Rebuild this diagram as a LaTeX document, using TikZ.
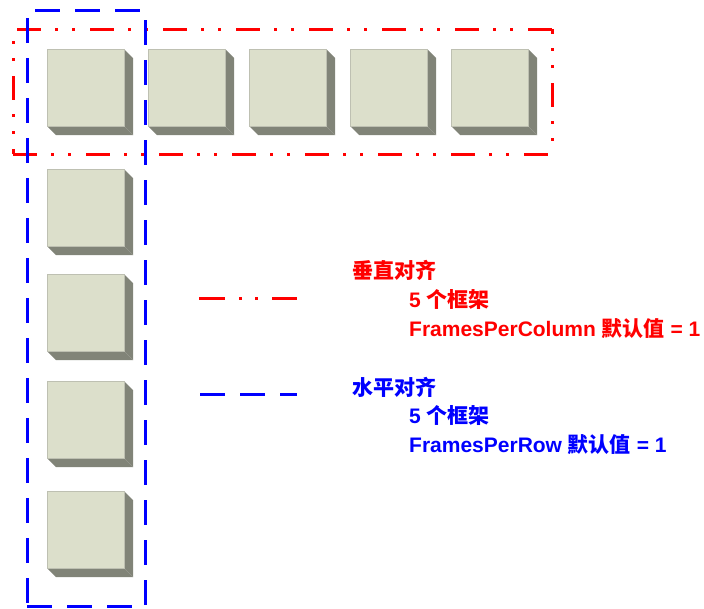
\documentclass[tikz,border=0pt]{standalone}
\usepackage{fontspec}
\setmainfont{Liberation Sans}
\newfontfamily\cjk{Noto Sans CJK SC}
\begin{document}
\begin{tikzpicture}[x=1pt,y=-1pt,
  frontface/.style={draw=edgecol, line width=0.8pt, fill=facecol, minimum size=77pt, inner sep=0pt, outer sep=0pt},
  sideface/.style={fill=sidecol},
  redline/.style={draw=red, line width=3pt, dash pattern=on 24pt off 14pt on 3pt off 14pt on 3pt off 15pt},
  blueline/.style={draw=blue, line width=3pt, dash pattern=on 25pt off 15pt},
  lbl/.style={anchor=base west, inner sep=0pt, font=\fontsize{21}{25}\selectfont\bfseries}]
\definecolor{facecol}{RGB}{220,223,203}
\definecolor{sidecol}{RGB}{129,132,120}
\definecolor{edgecol}{RGB}{190,192,178}
\useasboundingbox (0,0) rectangle (704,608);
% boxes
\foreach \n/\cx/\cy in {r1/85.5/87.5, r2/186.5/87.5, r3/287.5/87.5, r4/388.5/87.5, r5/489.5/87.5,
                        c2/85.5/207.5, c3/85.5/312.5, c4/85.5/419.5, c5/85.5/529.5}{
  \node[frontface] (\n) at (\cx,\cy) {};
  \fill[sideface] (\n.north east) -- ++(9,9) -- ([shift={(9,9)}]\n.south east) -- (\n.south east) -- cycle;
  \fill[sideface] (\n.south west) -- (\n.south east) -- ([shift={(9,9)}]\n.south east) -- ([shift={(9,9)}]\n.south west) -- cycle;
  \node[frontface] at (\cx,\cy) {};
}
% red group frame (row)
\coordinate (rtl) at (13,29);
\coordinate (rtr) at (552,29);
\coordinate (rbl) at (13,154);
\coordinate (rbr) at (552,154);
\draw[redline, dash phase=69pt] (rtl) -- (rtr);
\draw[redline, dash phase=26pt] (rtl) -- (rbl);
\draw[redline, dash phase=0pt] (rbl) -- (rbr);
\draw[redline, dash phase=19pt] (rtr) -- (rbr);
% blue group frame (column)
\coordinate (btl) at (27,10);
\coordinate (btr) at (145,10);
\coordinate (bbl) at (27,606);
\coordinate (bbr) at (145,606);
\draw[blueline, dash phase=32pt] (btl) -- (btr);
\draw[blueline, dash phase=32pt] (btl) -- (bbl);
\draw[blueline, dash phase=30pt] (btr) -- (bbr);
\draw[blueline, dash phase=0pt] (bbl) -- (bbr);
% legend
\coordinate (la1) at (199,298);
\coordinate (la2) at (297,298);
\draw[draw=red, line width=3pt, dash pattern=on 26pt off 14pt on 3pt off 13pt on 3pt off 14pt] (la1) -- (la2);
\coordinate (lb1) at (200,394);
\coordinate (lb2) at (297,394);
\draw[blueline] (lb1) -- (lb2);
\node[lbl, text=red] (t1) at (352,278) {{\cjk\bfseries 垂直对齐}};
\node[lbl, text=red] (t2) at (409,307) {5 {\cjk\bfseries 个框架}};
\node[lbl, text=red] (t3) at (409,336) {FramesPerColumn {\cjk\bfseries 默认值} = 1};
\node[lbl, text=blue] (t4) at (352,395) {{\cjk\bfseries 水平对齐}};
\node[lbl, text=blue] (t5) at (409,423) {5 {\cjk\bfseries 个框架}};
\node[lbl, text=blue] (t6) at (409,452) {FramesPerRow {\cjk\bfseries 默认值} = 1};
\end{tikzpicture}
\end{document}
